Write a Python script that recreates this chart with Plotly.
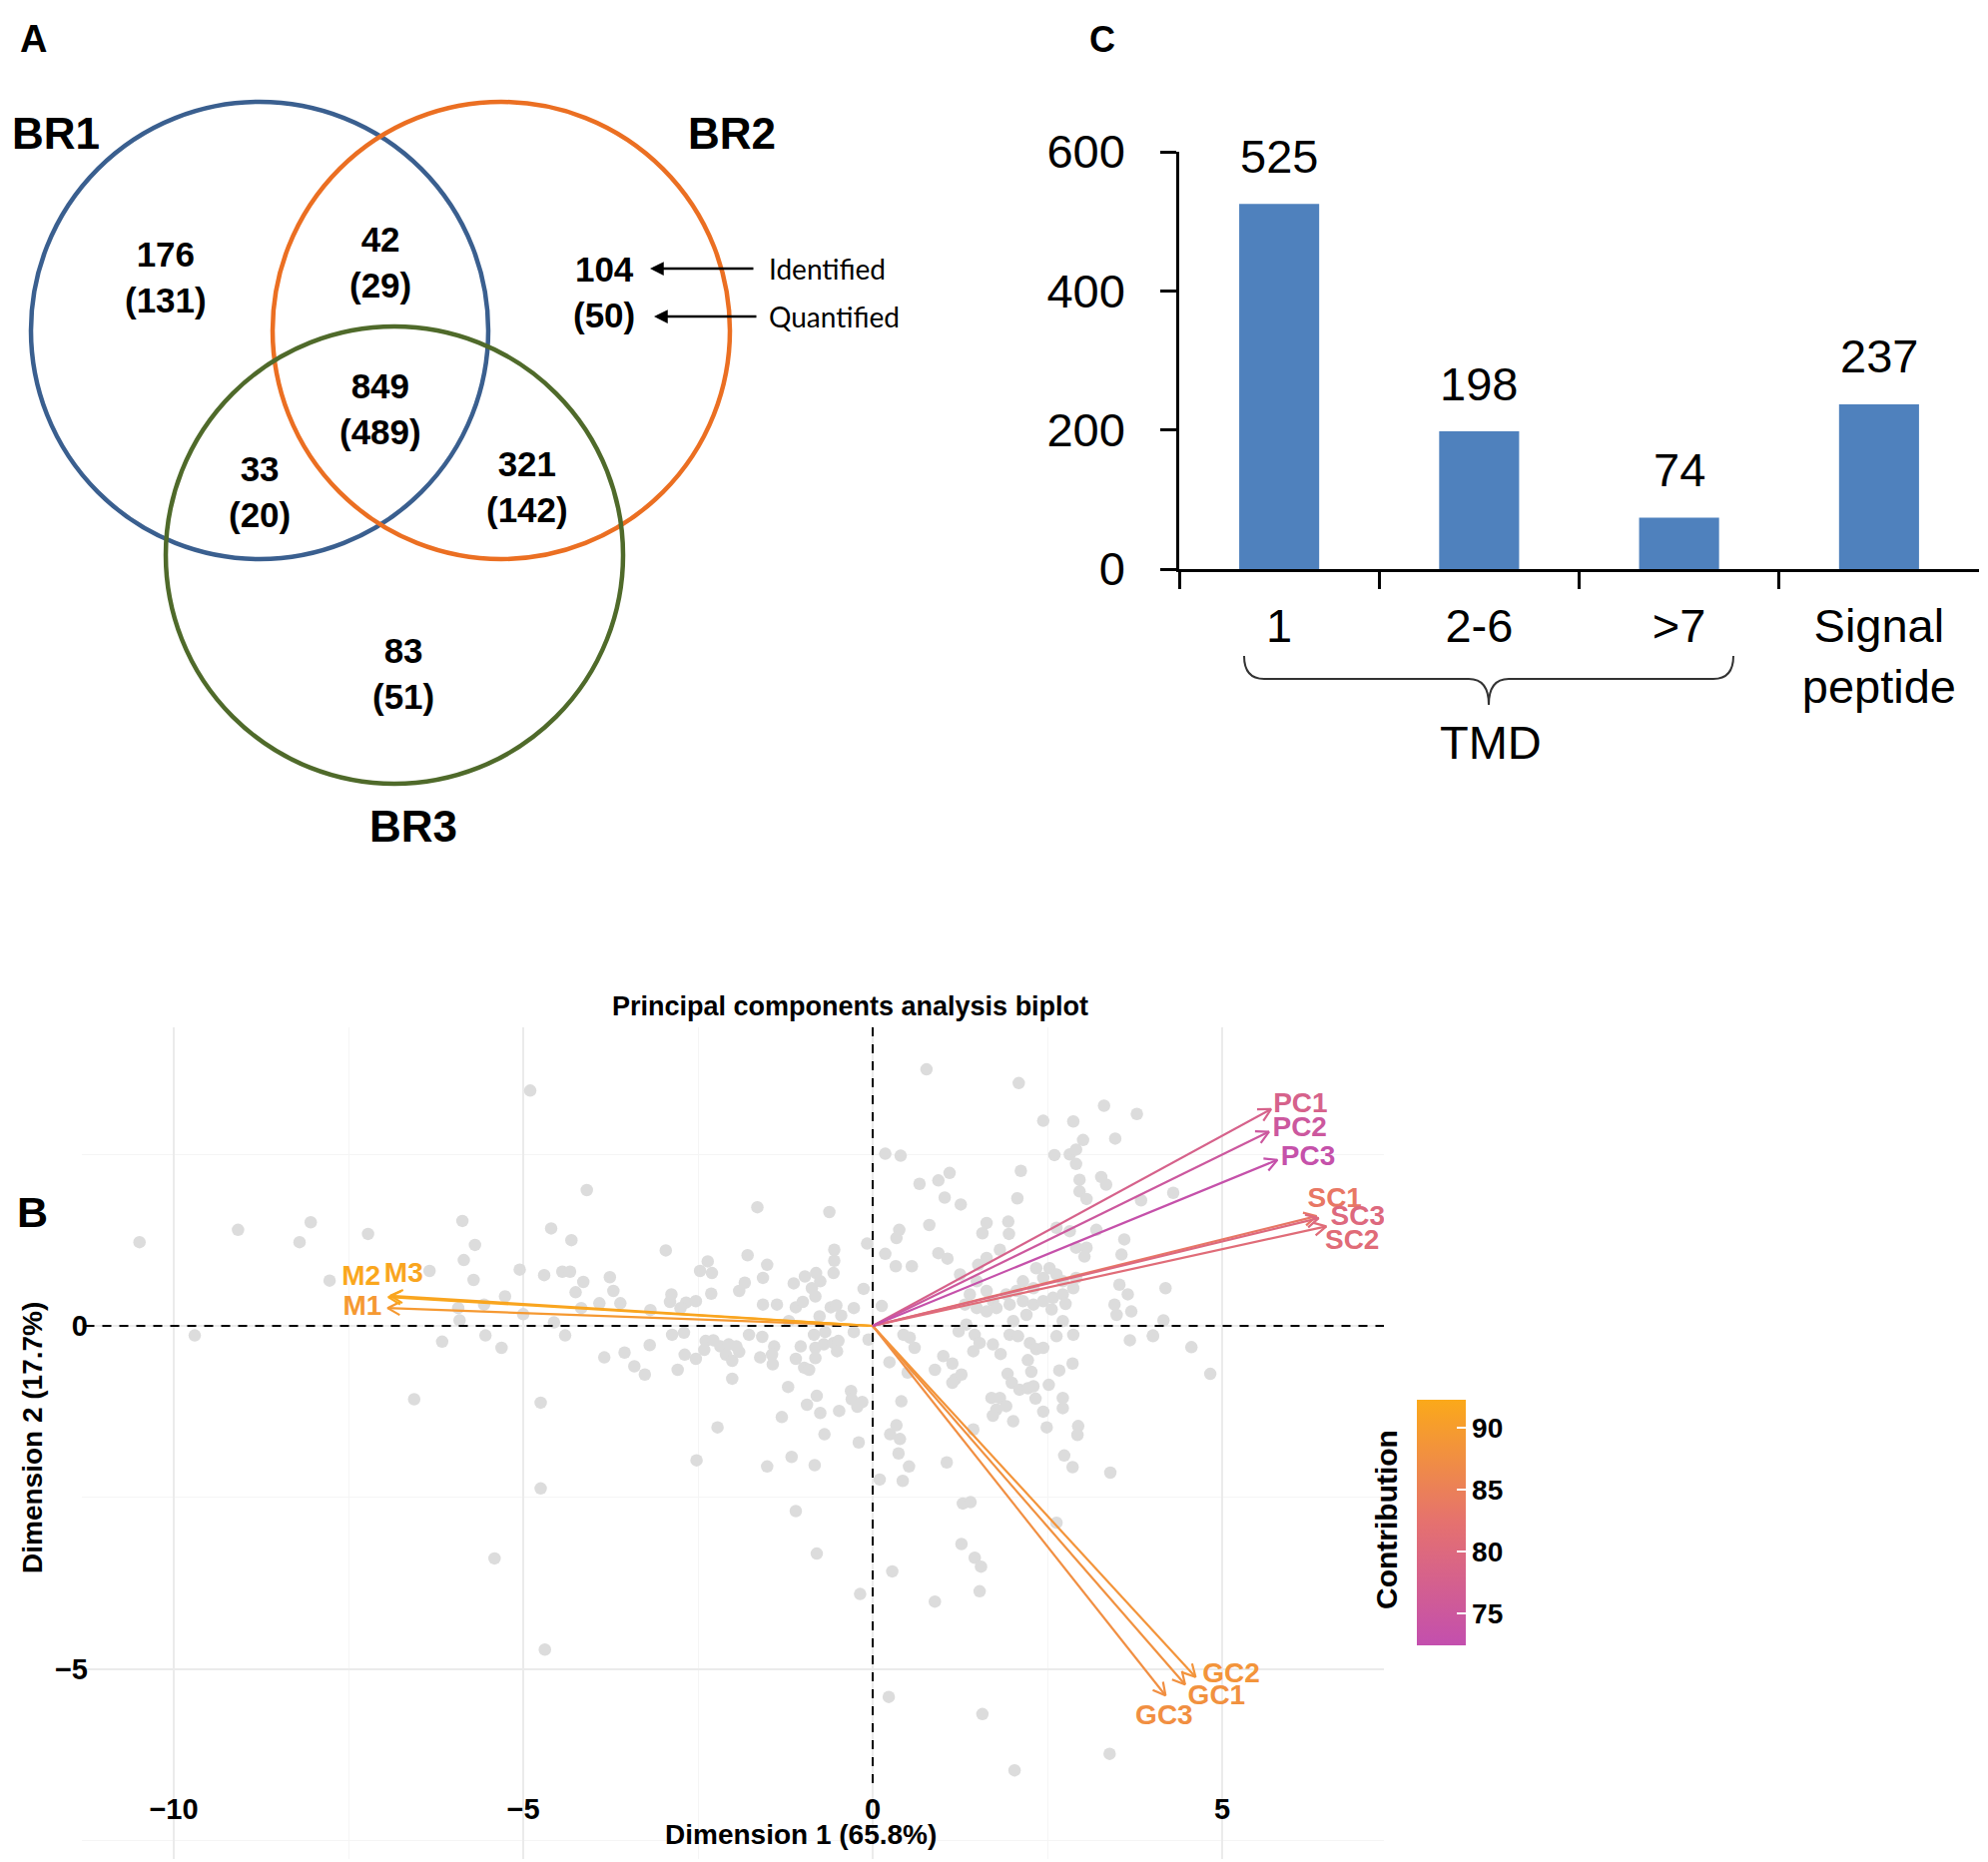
import numpy as np
import plotly.graph_objects as go
from plotly.colors import sample_colorscale

W, H = 1991, 1865
FONT = "Liberation Sans"

def fx(x):
    return x / W

def fy(y):
    return 1 - y / H

# ---------------- data ----------------
# Panel A: Venn counts (identified / quantified)
venn_sets = ["BR1", "BR2", "BR3"]
venn_identified = [176, 42, 104, 849, 33, 321, 83]
venn_quantified = [131, 29, 50, 489, 20, 142, 51]

# Panel C: bars
bar_categories = ["1", "2-6", ">7", "Signal<br>peptide"]
bar_values = [525, 198, 74, 237]
bar_yticks = [0, 200, 400, 600]

# Panel B: PCA individuals
ind_x = [-4.90, -10.49, -9.08, -8.04, -8.20, -7.22, -7.77, -6.34, -5.87, -5.69, -5.85, -5.71, -4.09, -4.60, -4.31,
         -5.05, -4.70, -4.44, -4.33, -4.14, -4.25, -5.26, -5.56, -5.93, -5.91, -5.00, -4.56, -4.17, -9.70, -6.16,
         -5.54, -5.31, -4.40, -6.56, -4.75, -4.75, -4.69, -5.41,
         -1.65, -0.62, -0.08, -2.96, -0.55, -0.55, -2.36, -2.47, -2.30, -1.79, -1.51, -1.57, -3.76, -3.71, -3.61,
         -3.91, -1.83, -1.91, -2.31, -2.88, -2.90, -2.67, -2.53, -2.75, -3.18, -1.13, -0.97, -0.81, -0.87, -0.75,
         -0.56, -0.82, -1.57, -1.37, -1.10, -1.00, -0.60, -0.52, -0.45, -0.27, -0.13, -0.76, -1.20, -2.87, -2.70,
         -3.19, -3.84, -3.55, -3.41, -3.26, -2.79, -2.69, -2.53, -2.39, -2.28, -2.41, -2.18, -2.06, -1.95, -2.10,
         -2.01, -1.91, -2.01, -1.77, -1.58, -1.41, -1.44, -1.61, -1.43, -1.10, -1.03, -0.84, -0.68, -0.82, -0.70,
         -0.56, -0.49, -0.82, -0.51, -0.98, -0.91, -0.27, -0.06, -1.21, -0.80, -0.94, -0.75, -0.31, -0.30, -0.22,
         -0.15, -0.48, -1.30, -2.22, -0.69, -0.20,
         0.77, 2.09, 3.31, 3.78, 2.44, 2.87, 3.47, 3.01, 2.60, 2.82, 2.91, 2.91, 0.18, 0.40, 2.12, 1.10, 0.94, 0.67,
         1.03, 1.26, 2.07, 2.96, 3.27, 3.34, 2.96, 3.06, 3.84, 0.81, 0.38, 0.34, 1.63, 1.57, 1.94, 1.95, 0.18, 0.33,
         0.56, 0.94, 1.07, 2.63, 2.82, 3.20, 3.60, 3.56, 2.91, 3.06, 3.03, 1.82, 1.63, 1.51, 1.25,
         2.34, 2.53, 2.44, 2.63, 2.72, 2.15, 2.30, 2.06, 1.91, 1.72, 1.63, 1.49, 1.39, 1.32, 1.49, 1.63, 1.77, 1.96,
         2.15, 2.30, 2.44, 2.58, 2.72, 2.87, 2.91, 3.53, 3.65, 3.46, 3.70, 3.49, 2.76, 2.56, 2.20, 2.01, 2.72, 0.13,
         1.34,
         0.44, 0.53, 0.60, 0.24, 0.50, 1.23, 1.46, 1.53, 1.44, 1.72, 1.83, 1.01, 1.14, 0.89, 1.27, 1.18, 1.14, 1.96,
         2.08, 2.25, 2.34, 2.44, 2.63, 2.87, 2.22, 2.27, 2.67, 2.86, 1.93, 1.99, 2.10, 2.22, 2.30, 2.52, 2.33, 2.44,
         2.72, 2.72, 1.70, 1.82, 1.91, 1.77, 1.72, 2.01, 2.49, 2.94, 2.93, 2.74, 2.86, 3.40, 3.68, 4.01, 0.41, 0.34,
         0.25, 0.39, 0.37, 0.52, 0.10, 0.43, 1.06, 1.44, 1.29, 1.40, 2.63,
         -2.52, -1.51, -1.16, -0.83, -1.10, -0.80, 0.28, -0.18, 0.89, 1.27, 1.46, 1.55, 1.53, 0.23, 1.57, 3.39, 2.03,
         4.30, 4.19, 4.16, 4.01, 4.56, 4.83]
ind_y = [3.43, 1.22, 1.40, 1.51, 1.22, 1.34, 0.66, 0.80, 1.53, 1.18, 0.96, 0.67, 1.98, 1.42, 1.25,
         0.82, 0.74, 0.79, 0.79, 0.64, 0.49, 0.43, 0.31, 0.26, 0.08, 0.17, 0.05, 0.26, -0.14, -0.23,
         -0.14, -0.32, -0.14, -1.07, -1.12, -2.37, -4.72, -3.39,
         1.73, 1.66, 1.20, 1.10, 1.11, 0.95, 0.94, 0.80, 0.77, 1.03, 0.89, 0.70, 0.71, 0.51, 0.33,
         0.33, 0.63, 0.51, 0.47, 0.46, 0.35, 0.34, 0.36, 0.26, 0.23, 0.62, 0.72, 0.77, 0.55, 0.65,
         0.77, 0.43, 0.31, 0.31, 0.27, 0.35, 0.27, 0.30, 0.15, 0.26, 0.54, 0.14, 0.07, -0.13, -0.10,
         -0.28, -0.46, -0.39, -0.59, -0.71, -0.64, -0.42, -0.48, -0.22, -0.21, -0.35, -0.30, -0.27, -0.30, -0.42,
         -0.51, -0.38, -0.77, -0.13, -0.16, -0.30, -0.42, -0.46, -0.56, -0.48, -0.30, -0.13, -0.09, -0.32, -0.27,
         -0.25, -0.22, -0.47, -0.37, -0.61, -0.64, -0.09, -0.20, -0.89, -1.02, -1.15, -1.27, -0.95, -1.07, -1.18,
         -1.11, -1.24, -1.33, -1.48, -1.58, -1.70,
         3.74, 3.54, 3.21, 3.09, 2.99, 2.98, 2.73, 2.71, 2.49, 2.50, 2.57, 2.36, 2.51, 2.48, 2.26, 2.23, 2.12, 2.07,
         1.87, 1.77, 1.86, 2.13, 2.17, 2.06, 1.96, 1.85, 1.83, 1.47, 1.40, 1.28, 1.50, 1.35, 1.52, 1.34, 1.05, 0.87,
         0.87, 1.06, 0.98, 1.43, 1.38, 1.40, 1.26, 1.04, 1.14, 1.14, 1.01, 1.11, 0.99, 0.89, 0.75,
         0.84, 0.84, 0.70, 0.75, 0.65, 0.65, 0.55, 0.51, 0.46, 0.36, 0.51, 0.65, 0.46, 0.31, 0.26, 0.21, 0.26, 0.31,
         0.36, 0.31, 0.36, 0.41, 0.46, 0.55, 0.70, 0.60, 0.46, 0.31, 0.21, 0.16, 0.32, 0.24, 0.16, 0.07, 0.07, 0.29,
         0.02,
         -0.13, -0.17, -0.32, -0.53, -0.68, -0.08, -0.13, -0.25, -0.37, -0.27, -0.41, -0.44, -0.55, -0.64, -0.71,
         -0.78, -0.83, -0.13, -0.15, -0.25, -0.34, -0.32, -0.15, -0.13, -0.50, -0.67, -0.65, -0.55, -0.70, -0.83,
         -0.93, -0.91, -0.88, -0.86, -1.06, -1.25, -1.05, -1.20, -1.05, -1.05, -1.17, -1.22, -1.31, -1.39, -1.48,
         -1.46, -1.59, -1.89, -2.06, -2.14, -0.21, -0.15, -1.10, -1.45, -1.58, -1.65, -1.86, -2.05, -2.24, -2.26,
         -1.99, -1.51, -2.59, -2.57, -2.87,
         -1.96, -2.05, -1.91, -2.03, -2.70, -3.32, -3.58, -3.91, -4.02, -3.18, -3.38, -3.51, -3.87, -5.41, -5.66,
         -6.24, -6.48,
         1.94, 0.55, 0.08, -0.14, -0.31, -0.70]

# Panel B: PCA variables
var_names = ["M1", "M2", "M3", "GC1", "GC2", "GC3", "SC1", "SC2", "SC3", "PC1", "PC2", "PC3"]
var_x = [-6.94, -6.93, -6.90, 4.47, 4.62, 4.19, 6.35, 6.49, 6.38, 5.70, 5.67, 5.79]
var_y = [0.26, 0.42, 0.44, -5.23, -5.12, -5.39, 1.60, 1.45, 1.57, 3.16, 2.83, 2.42]
var_contrib = [89.5, 92.0, 91.6, 88.0, 88.5, 87.6, 83.5, 81.0, 80.0, 78.0, 75.0, 73.0]
var_label_x = [-7.30, -7.32, -6.71, 4.92, 5.13, 4.17, 6.61, 6.86, 6.94, 6.12, 6.11, 6.23]
var_label_y = [0.26, 0.70, 0.74, -5.41, -5.10, -5.70, 1.84, 1.23, 1.57, 3.22, 2.87, 2.45]
contrib_ticks = [75, 80, 85, 90]
contrib_range = [72.4, 92.3]

# ---------------- figure ----------------
fig = go.Figure()

# ---- Panel B geometry (pixels) ----
PX0, PX1, PY0, PY1 = 82, 1386, 1029, 1862
OX, OY, SX, SY = 874, 1328, 70.0, 68.7
xr = [(PX0 - OX) / SX, (PX1 - OX) / SX]
yr = [(OY - PY1) / SY, (OY - PY0) / SY]

fig.add_trace(go.Scatter(x=ind_x, y=ind_y, mode="markers", xaxis="x", yaxis="y",
                         marker=dict(size=12.5, color="#DCDCDC", line=dict(width=0)),
                         hoverinfo="skip", showlegend=False))

# dashed reference lines
fig.add_trace(go.Scatter(x=[xr[0] + 0.05, xr[1]], y=[0, 0], mode="lines", xaxis="x", yaxis="y",
                         line=dict(color="black", width=2, dash="9px,8px"), showlegend=False, hoverinfo="skip"))
fig.add_trace(go.Scatter(x=[0, 0], y=[yr[1], -6.72], mode="lines", xaxis="x", yaxis="y",
                         line=dict(color="black", width=2, dash="9px,8px"), showlegend=False, hoverinfo="skip"))

colorscale = [[0, "#C34FAE"], [0.5, "#E5716F"], [1, "#FBA91A"]]
cmin, cmax = contrib_range
var_colors = [sample_colorscale(colorscale, [(c - cmin) / (cmax - cmin)])[0] for c in var_contrib]

L = 14.0
ang = np.deg2rad(28)
for vx, vy, col in zip(var_x, var_y, var_colors):
    d = np.array([vx * SX, vy * SY])
    u = -d / np.linalg.norm(d)
    wings = []
    for a in (ang, -ang):
        r = np.array([u[0] * np.cos(a) - u[1] * np.sin(a), u[0] * np.sin(a) + u[1] * np.cos(a)]) * L
        wings.append((vx + r[0] / SX, vy + r[1] / SY))
    fig.add_trace(go.Scatter(x=[0, vx, None, wings[0][0], vx, wings[1][0]],
                             y=[0, vy, None, wings[0][1], vy, wings[1][1]],
                             mode="lines", xaxis="x", yaxis="y",
                             line=dict(color=col, width=2.2), showlegend=False, hoverinfo="skip"))

fig.add_trace(go.Scatter(x=var_label_x, y=var_label_y, text=var_names, mode="text", xaxis="x", yaxis="y",
                         textfont=dict(family=FONT, size=28, color=var_colors, weight="bold"),
                         showlegend=False, hoverinfo="skip"))

# colorbar carrier
fig.add_trace(go.Scatter(x=var_x, y=var_y, mode="markers", xaxis="x", yaxis="y",
                         marker=dict(size=1, opacity=0, color=var_contrib, colorscale=colorscale,
                                     cmin=cmin, cmax=cmax, showscale=True,
                                     colorbar=dict(x=fx(1419), xanchor="left", xpad=0,
                                                   y=fy(1648), yanchor="bottom", ypad=0,
                                                   lenmode="pixels", len=246,
                                                   thicknessmode="pixels", thickness=49,
                                                   tickvals=contrib_ticks, ticks="inside",
                                                   tickcolor="white", ticklen=9, tickwidth=1.5,
                                                   outlinewidth=0,
                                                   tickfont=dict(family=FONT, size=28, color="black",
                                                                 weight="bold"))),
                         showlegend=False, hoverinfo="skip"))

# ---- Panel C bars ----
fig.add_trace(go.Bar(x=bar_categories, y=bar_values, xaxis="x2", yaxis="y2", width=0.4,
                     marker=dict(color="#4F81BD", line=dict(width=0)), showlegend=False, hoverinfo="skip"))

annotations = []
for i, v in enumerate(bar_values):
    annotations.append(dict(x=i, y=v, xref="x2", yref="y2", text=str(v), showarrow=False,
                            xanchor="center", yanchor="middle", yshift=48,
                            font=dict(family=FONT, size=47, color="black")))

# ---- Panel A Venn (axis units = pixels) ----
venn_cx = [260, 502, 395]
venn_cy = [331, 331, 556]
venn_r = [229, 229, 229]
venn_colors = ["#3A5F8F", "#EB6F22", "#4F6A2A"]
shapes = []
for cx, cy, r, col in zip(venn_cx, venn_cy, venn_r, venn_colors):
    shapes.append(dict(type="circle", xref="x3", yref="y3", x0=cx - r, x1=cx + r, y0=cy - r, y1=cy + r,
                       line=dict(color=col, width=4.5)))

set_label_pos = [(56, 133), (733, 133), (414, 827)]
for name, (lx, ly) in zip(venn_sets, set_label_pos):
    annotations.append(dict(x=lx, y=ly, xref="x3", yref="y3", text=name, showarrow=False,
                            xanchor="center", yanchor="middle",
                            font=dict(family=FONT, size=44, color="black", weight="bold")))

region_pos = [(166, 277), (381, 262), (605, 292), (381, 409), (260, 492), (528, 487), (404, 674)]
for (rx, ry), n1, n2 in zip(region_pos, venn_identified, venn_quantified):
    annotations.append(dict(x=rx, y=ry, xref="x3", yref="y3", text=f"{n1}<br>({n2})", showarrow=False,
                            xanchor="center", yanchor="middle",
                            font=dict(family=FONT, size=35, color="black", weight="bold")))

for (hx, tx, yy, label) in [(651, 756, 269, "Identified"), (655, 759, 317, "Quantified")]:
    annotations.append(dict(x=hx, y=yy, ax=tx, ay=yy, xref="x3", yref="y3", axref="x3", ayref="y3",
                            text="", showarrow=True, arrowhead=2, arrowsize=1.1, arrowwidth=2.5,
                            arrowcolor="black"))
    annotations.append(dict(x=768, y=yy, xref="x3", yref="y3", text=label, showarrow=False,
                            xanchor="left", yanchor="middle",
                            font=dict(family="Lato", size=28, color="black")))

# ---- brace + TMD ----
def P(x, y):
    return f"{fx(x):.5f},{fy(y):.5f}"

brace = (f"M {P(1246, 657)} Q {P(1246, 680)} {P(1266, 680)} L {P(1471, 680)} "
         f"Q {P(1491, 680)} {P(1491, 706)} Q {P(1491, 680)} {P(1511, 680)} "
         f"L {P(1716, 680)} Q {P(1736, 680)} {P(1736, 657)}")
shapes.append(dict(type="path", xref="paper", yref="paper", path=brace,
                   line=dict(color="#333333", width=2)))


def paper_text(txt, x, y, size, bold=False, angle=0, family=FONT):
    f = dict(family=family, size=size, color="black")
    if bold:
        f["weight"] = "bold"
    return dict(x=fx(x), y=fy(y), xref="paper", yref="paper", text=txt, showarrow=False,
                xanchor="center", yanchor="middle", textangle=angle, font=f)


annotations.append(paper_text("TMD", 1493, 743, 47))
annotations.append(paper_text("A", 33, 39, 38, bold=True))
annotations.append(paper_text("C", 1104, 39, 36, bold=True))
annotations.append(paper_text("B", 32, 1214, 43, bold=True))
annotations.append(paper_text("Principal components analysis biplot", 851, 1008, 27, bold=True))
annotations.append(paper_text("Dimension 1 (65.8%)", 802, 1837, 28, bold=True))
annotations.append(paper_text("Dimension 2 (17.7%)", 32, 1440, 28, bold=True, angle=-90))
annotations.append(paper_text("Contribution", 1388, 1522, 30, bold=True, angle=-90))

tickfont_b = dict(family=FONT, size=29, color="black", weight="bold")

fig.update_layout(
    width=W, height=H, margin=dict(l=0, r=0, t=0, b=0, pad=0, autoexpand=False),
    paper_bgcolor="white", plot_bgcolor="white",
    showlegend=False,
    xaxis=dict(domain=[fx(PX0), fx(PX1)], range=xr, anchor="free", position=fy(1792), automargin=False,
               tick0=0, dtick=5, showgrid=True, gridcolor="#EBEBEB", gridwidth=1.5,
               minor=dict(dtick=2.5, tick0=0, showgrid=True, gridcolor="#F5F5F5", gridwidth=1),
               zeroline=False, showline=False, ticks="", tickfont=tickfont_b, fixedrange=True),
    yaxis=dict(domain=[fy(PY1), fy(PY0)], range=yr, anchor="free", position=fx(88), automargin=False,
               tick0=0, dtick=5, showgrid=True, gridcolor="#EBEBEB", gridwidth=1.5,
               minor=dict(dtick=2.5, tick0=0, showgrid=True, gridcolor="#F5F5F5", gridwidth=1),
               zeroline=False, showline=False, ticks="", tickfont=tickfont_b, fixedrange=True),
    xaxis2=dict(domain=[fx(1181), fx(1982)], anchor="y2", type="category", range=[-0.5, 3.5],
                automargin=False,
                tickson="boundaries", ticks="outside", ticklen=17, tickwidth=2.5, tickcolor="black",
                showline=True, linewidth=2.5, linecolor="black", showgrid=False, zeroline=False,
                ticklabelstandoff=14, tickfont=dict(family=FONT, size=47, color="black")),
    yaxis2=dict(domain=[fy(570), fy(152)], anchor="x2", range=[0, 600], tickvals=bar_yticks,
                automargin=False,
                ticks="outside", ticklen=16, tickwidth=2.5, tickcolor="black",
                showline=True, linewidth=2.5, linecolor="black", showgrid=False, zeroline=False,
                ticklabelstandoff=26, tickfont=dict(family=FONT, size=47, color="black")),
    xaxis3=dict(domain=[0, fx(1000)], anchor="y3", range=[0, 1000], visible=False, automargin=False),
    yaxis3=dict(domain=[fy(900), 1], anchor="x3", range=[900, 0], visible=False, automargin=False),
    shapes=shapes, annotations=annotations,
)

fig.write_html("out.html", config={"displayModeBar": False},
               post_script="document.body.style.margin='0';document.body.style.overflow='hidden';")
